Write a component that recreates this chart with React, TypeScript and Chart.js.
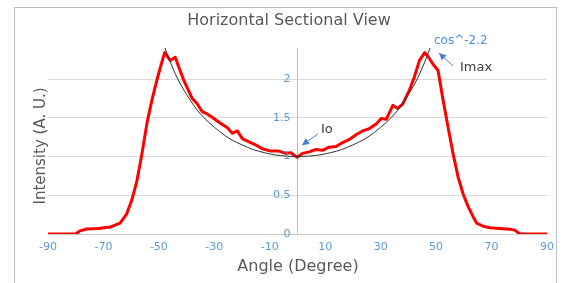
import React, { useEffect, useRef } from "react";
import { Chart, registerables } from "chart.js";

Chart.register(...registerables);

const measuredAngles = [
  -90, -80, -78.5, -76, -71.8, -67.6, -64, -61.6, -59.8, -57.9, -56.1, -54.3, -52.5, -50.7, -48.9, -47.9,
  -45.9, -44.1, -42.9, -41.1, -38.0, -36.2, -34.4, -32.6, -30.2, -27.8, -25.3, -23.5, -21.7, -19.9, -17.5,
  -15.1, -12.7, -9.7, -6.7, -4.2, -2.4, -0.6, 0, 1.8, 4.2, 6.6, 9.0, 11.4, 13.9, 16.3, 18.7, 21.1, 23.5,
  25.9, 28.4, 30.2, 32.0, 34.4, 36.2, 38.0, 40.4, 42.2, 44.0, 45.9, 47.1, 48.9, 50.7, 52.5, 54.3, 56.1,
  57.9, 59.7, 61.6, 63.4, 64.6, 67.0, 69.4, 73.0, 76.6, 78.4, 80.2, 90,
];
const measuredIntensity = [
  0, 0, 0.04, 0.065, 0.07, 0.09, 0.14, 0.26, 0.435, 0.69, 1.04, 1.43, 1.73, 1.99, 2.22, 2.34,
  2.24, 2.28, 2.16, 1.99, 1.75, 1.68, 1.58, 1.55, 1.49, 1.43, 1.37, 1.3, 1.33, 1.23, 1.19,
  1.15, 1.1, 1.07, 1.07, 1.04, 1.05, 1.0, 0.99, 1.04, 1.06, 1.09, 1.08, 1.12, 1.13, 1.18, 1.22, 1.28, 1.33,
  1.36, 1.42, 1.49, 1.48, 1.66, 1.62, 1.68, 1.86, 2.03, 2.24, 2.34, 2.29, 2.19, 2.11, 1.73, 1.38, 1.04,
  0.74, 0.52, 0.35, 0.22, 0.14, 0.1, 0.08, 0.07, 0.06, 0.05, 0, 0,
];

const fitAngles = [-47.8, -46, -44, -42, -40, -36, -32, -28, -24, -20, -16, -12, -8, -4, 0, 4, 8, 12, 16, 20, 24, 28, 32, 36, 40, 42, 44, 46, 47.8];
const fitIntensity = [2.4, 2.23, 2.06, 1.92, 1.8, 1.59, 1.44, 1.32, 1.22, 1.15, 1.09, 1.05, 1.02, 1.005, 1.0, 1.005, 1.02, 1.05, 1.09, 1.15, 1.22, 1.32, 1.44, 1.59, 1.8, 1.92, 2.06, 2.23, 2.4];

const xTickLabels = ["-90", "-70", "-50", "-30", "-10", "10", "30", "50", "70", "90"];
const yTickValues = [0, 0.5, 1, 1.5, 2];

const FONT = "'DejaVu Sans', 'Open Sans', sans-serif";
const TICK_BLUE = "#5b9bd5";
const GRAY_TEXT = "#595959";

const decorPlugin = {
  id: "decor",
  beforeDraw(chart: any) {
    const ctx = chart.ctx;
    ctx.save();
    ctx.fillStyle = "#ffffff";
    ctx.fillRect(0, 0, chart.width, chart.height);
    ctx.strokeStyle = "#bfbfbf";
    ctx.lineWidth = 1;
    ctx.strokeRect(14.5, 7.5, 542, 300);
    ctx.restore();
  },
  afterDraw(chart: any) {
    const ctx = chart.ctx;
    const arrow = (x1: number, y1: number, x2: number, y2: number) => {
      ctx.save();
      ctx.strokeStyle = "#4a7fd0";
      ctx.fillStyle = "#4a7fd0";
      ctx.lineWidth = 1;
      ctx.beginPath();
      ctx.moveTo(x1, y1);
      ctx.lineTo(x2, y2);
      ctx.stroke();
      const a = Math.atan2(y2 - y1, x2 - x1);
      const L = 7, W = 3.5;
      ctx.beginPath();
      ctx.moveTo(x2, y2);
      ctx.lineTo(x2 - L * Math.cos(a) + W * Math.sin(a), y2 - L * Math.sin(a) - W * Math.cos(a));
      ctx.lineTo(x2 - L * Math.cos(a) - W * Math.sin(a), y2 - L * Math.sin(a) + W * Math.cos(a));
      ctx.closePath();
      ctx.fill();
      ctx.restore();
    };
    const xs = chart.scales.x;
    const ys = chart.scales.y;
    ctx.save();
    ctx.textBaseline = "middle";
    // y tick labels, left of the centred axis
    ctx.fillStyle = TICK_BLUE;
    ctx.textAlign = "right";
    ctx.font = `11px ${FONT}`;
    const axisX = xs.getPixelForValue(0);
    yTickValues.forEach((v) => {
      ctx.fillText(String(v), axisX - 7, ys.getPixelForValue(v));
    });
    // title
    ctx.fillStyle = GRAY_TEXT;
    ctx.textAlign = "center";
    ctx.font = `16px ${FONT}`;
    ctx.fillText("Horizontal Sectional View", 289, 21);
    // x title
    ctx.fillText("Angle (Degree)", 298, 267);
    // y title
    ctx.font = `15px ${FONT}`;
    ctx.save();
    ctx.translate(41, 146);
    ctx.rotate(-Math.PI / 2);
    ctx.fillText("Intensity (A. U.)", 0, 0);
    ctx.restore();
    // annotations
    ctx.textAlign = "left";
    ctx.font = `12px ${FONT}`;
    ctx.fillStyle = "#4a90d9";
    ctx.fillText("cos^-2.2", 434, 41);
    ctx.font = `13px ${FONT}`;
    ctx.fillStyle = "#404040";
    ctx.fillText("Imax", 460, 68);
    ctx.fillText("Io", 321, 130);
    ctx.restore();
    arrow(453, 66, 439, 53);
    arrow(318, 134, 302, 145);
  },
};

export default function App() {
  const ref = useRef<HTMLCanvasElement | null>(null);
  useEffect(() => {
    if (!ref.current) return;
    const chart = new Chart(ref.current, {
      type: "line",
      data: {
        datasets: [
          {
            label: "cos^-2.2",
            data: fitAngles.map((a, i) => ({ x: a, y: fitIntensity[i] })),
            borderColor: "#333333",
            borderWidth: 1,
            pointRadius: 0,
            cubicInterpolationMode: "monotone",
            fill: false,
          },
          {
            label: "Measured",
            data: measuredAngles.map((a, i) => ({ x: a, y: measuredIntensity[i] })),
            borderColor: "#ff0000",
            borderWidth: 3,
            pointRadius: 0,
            tension: 0,
            fill: false,
            borderJoinStyle: "round",
          },
        ],
      },
      options: {
        animation: false,
        responsive: false,
        layout: { padding: { left: 48, right: 22, top: 48, bottom: 0 } },
        plugins: { legend: { display: false }, title: { display: false }, tooltip: { enabled: false } },
        scales: {
          x: {
            type: "linear",
            position: "bottom",
            min: -90,
            max: 90,
            afterFit: (s: any) => {
              s.height = 49;
            },
            afterBuildTicks: (s: any) => {
              s.ticks = xTickLabels.map((t) => ({ value: Number(t) }));
            },
            ticks: {
              color: TICK_BLUE,
              font: { family: FONT, size: 11 },
              padding: 7,
              maxRotation: 0,
              autoSkip: false,
              callback: (v: any) => String(v),
            },
            grid: { display: false, drawTicks: false },
            border: { display: true, color: "#c8c8c8" },
          },
          y: {
            type: "linear",
            position: { x: 0 } as any,
            min: 0,
            max: 2.4,
            afterBuildTicks: (s: any) => {
              s.ticks = yTickValues.map((v) => ({ value: v }));
            },
            ticks: { display: false },
            grid: { color: "#d9d9d9", drawTicks: false },
            border: { display: true, color: "#bfbfbf" },
          },
        },
      },
      plugins: [decorPlugin],
    });
    return () => chart.destroy();
  }, []);
  return (
    <div style={{ position: "absolute", left: 0, top: 0, width: 569, height: 283 }}>
      <canvas ref={ref} width={569} height={283} style={{ display: "block" }} />
    </div>
  );
}
